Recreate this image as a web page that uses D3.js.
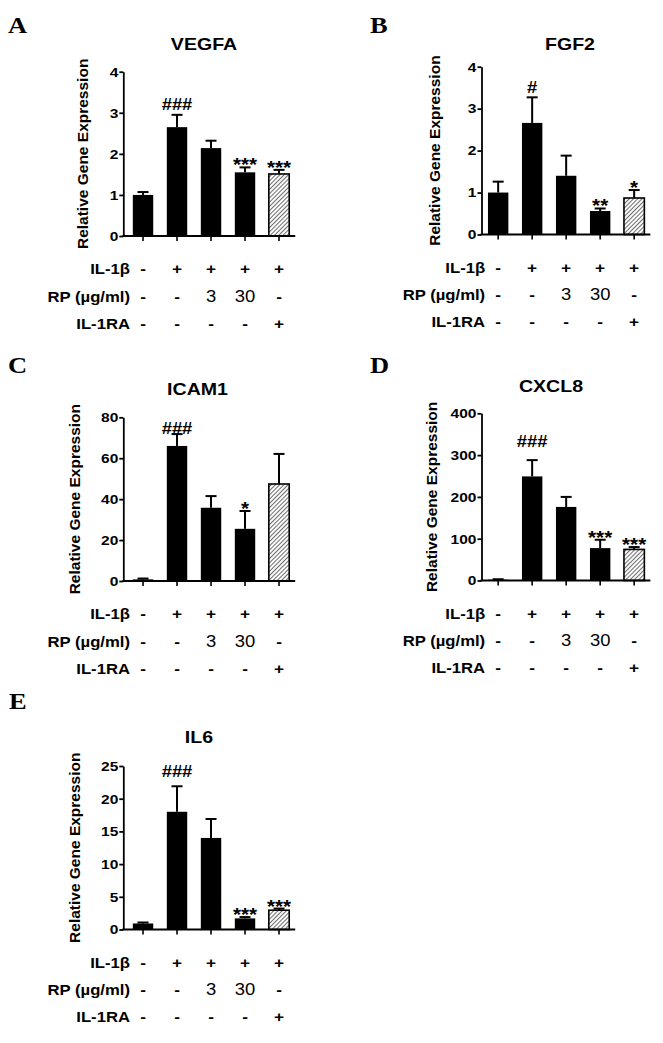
<!DOCTYPE html>
<html>
<head>
<meta charset="utf-8">
<script src="https://cdn.jsdelivr.net/npm/d3@7"></script>
<style>
  body { margin: 0; background: #fff; }
  svg { display: block; }
</style>
</head>
<body>
<div id="fig"></div>
<script>
// groups on the x axis (same for every panel)
const groups = ["ctrl", "il1b", "rp3", "rp30", "il1ra"];

// treatment rows under each panel
const rowLabels = ["IL-1β", "RP (µg/ml)", "IL-1RA"];
const il1bRow = ["-", "+", "+", "+", "+"];
const rpRow = ["-", "-", "3", "30", "-"];
const il1raRow = ["-", "-", "-", "-", "+"];

// values: mean and upper error (SEM)
const vegfaMean = [1.0, 2.65, 2.14, 1.55, 1.51];
const vegfaSem = [0.07, 0.30, 0.18, 0.12, 0.10];
const vegfaSig = ["", "###", "", "***", "***"];
const vegfaTicks = [0, 1, 2, 3, 4];

const fgf2Mean = [1.0, 2.66, 1.40, 0.56, 0.87];
const fgf2Sem = [0.26, 0.61, 0.48, 0.06, 0.19];
const fgf2Sig = ["", "#", "", "**", "*"];
const fgf2Ticks = [0, 1, 2, 3, 4];

const icam1Mean = [0.8, 66, 35.8, 25.5, 47.4];
const icam1Sem = [0.4, 5.8, 5.7, 8.7, 14.7];
const icam1Sig = ["", "###", "", "*", ""];
const icam1Ticks = [0, 20, 40, 60, 80];

const cxcl8Mean = [2, 249, 176, 77.5, 74.4];
const cxcl8Sem = [1, 39, 24, 20, 5.6];
const cxcl8Sig = ["", "###", "", "***", "***"];
const cxcl8Ticks = [0, 100, 200, 300, 400];

const il6Mean = [0.92, 18.0, 14.0, 1.7, 2.95];
const il6Sem = [0.15, 3.9, 2.9, 0.2, 0.25];
const il6Sig = ["", "###", "", "***", "***"];
const il6Ticks = [0, 5, 10, 15, 20, 25];

const W = 663, H = 1043;
const SX = 1.15; // the figure's lettering is a bit wider than Arial
const SANS = "'Liberation Sans', Arial, sans-serif";
const SERIF = "'Liberation Serif', 'Times New Roman', serif";

// layout of each panel on the page
const panels = [
  { letter: "A", title: "VEGFA", mean: vegfaMean, sem: vegfaSem, sig: vegfaSig, ticks: vegfaTicks,
    lx: 8, ly: 33, tx: 204, ty: 50, x0: 123.3, y0: 236, y1: 71.7, padOuter: 0.28, labelX: 88, hashDy: -5 },
  { letter: "B", title: "FGF2", mean: fgf2Mean, sem: fgf2Sem, sig: fgf2Sig, ticks: fgf2Ticks,
    lx: 370, ly: 33, tx: 570, ty: 50, x0: 481.5, y0: 234.5, y1: 66.7, padOuter: 0.19, labelX: 440, hashDy: -4 },
  { letter: "C", title: "ICAM1", mean: icam1Mean, sem: icam1Sem, sig: icam1Sig, ticks: icam1Ticks,
    lx: 8, ly: 373, tx: 197.5, ty: 395, x0: 123.3, y0: 581, y1: 417.3, padOuter: 0.28, labelX: 80, hashDy: 0 },
  { letter: "D", title: "CXCL8", mean: cxcl8Mean, sem: cxcl8Sem, sig: cxcl8Sig, ticks: cxcl8Ticks,
    lx: 370, ly: 373, tx: 551, ty: 392, x0: 481.5, y0: 580.5, y1: 413.3, padOuter: 0.19, labelX: 437, hashDy: -13 },
  { letter: "E", title: "IL6", mean: il6Mean, sem: il6Sem, sig: il6Sig, ticks: il6Ticks,
    lx: 9, ly: 709, tx: 199, ty: 743, x0: 123.3, y0: 929.5, y1: 766, padOuter: 0.28, labelX: 80, hashDy: -9 }
];

const rows = [il1bRow, rpRow, il1raRow];
const rowBaseline = [38, 65.5, 92.5];

const svg = d3.select("#fig").append("svg")
  .attr("width", W)
  .attr("height", H);

svg.append("rect").attr("width", W).attr("height", H).attr("fill", "#fff");

// diagonal hatch for the IL-1RA bar
const pat = svg.append("defs").append("pattern")
  .attr("id", "hatch")
  .attr("patternUnits", "userSpaceOnUse")
  .attr("width", 3).attr("height", 3)
  .attr("patternTransform", "rotate(45)");
pat.append("rect").attr("width", 3).attr("height", 3).attr("fill", "#fff");
pat.append("line").attr("x1", 0.5).attr("y1", 0).attr("x2", 0.5).attr("y2", 3)
  .attr("stroke", "#6e6e6e").attr("stroke-width", 1.1);

// stretch text horizontally
function widen(sel, k) {
  sel.each(function () {
    const n = this.getComputedTextLength();
    d3.select(this).attr("textLength", n * k).attr("lengthAdjust", "spacingAndGlyphs");
  });
}

function drawPanel(p) {
  const g = svg.append("g");
  const yMax = p.ticks[p.ticks.length - 1];
  const y = d3.scaleLinear().domain([0, yMax]).range([p.y0, p.y1]);
  const step = 34;
  const x = d3.scaleBand()
    .domain(groups)
    .range([p.x0, p.x0 + step * (groups.length - 0.4 + 2 * p.padOuter)])
    .paddingInner(0.4)
    .paddingOuter(p.padOuter);
  const bw = x.bandwidth();
  const cx = d => x(d) + bw / 2;

  // panel letter
  g.append("text")
    .attr("x", p.lx).attr("y", p.ly)
    .style("font-family", SERIF).style("font-weight", "bold").style("font-size", "23px")
    .text(p.letter)
    .call(widen, SX);

  // title
  g.append("text")
    .attr("x", p.tx).attr("y", p.ty)
    .attr("text-anchor", "middle")
    .style("font-family", SANS).style("font-weight", "bold").style("font-size", "17px")
    .text(p.title)
    .call(widen, SX);

  // y label
  g.append("text")
    .attr("transform", `translate(${p.labelX},${(p.y0 + p.y1) / 2}) rotate(-90)`)
    .attr("text-anchor", "middle")
    .style("font-family", SANS).style("font-weight", "bold").style("font-size", "15.5px")
    .text("Relative Gene Expression");

  // bars
  g.selectAll(".bar")
    .data(groups)
    .enter()
    .append("rect")
    .attr("class", "bar")
    .attr("x", d => x(d))
    .attr("y", (d, i) => y(p.mean[i]))
    .attr("width", bw)
    .attr("height", (d, i) => p.y0 - y(p.mean[i]))
    .attr("fill", (d, i) => i === groups.length - 1 ? "url(#hatch)" : "#000")
    .attr("stroke", (d, i) => i === groups.length - 1 ? "#000" : "none")
    .attr("stroke-width", 1.6);

  // error bars (upper only)
  const err = g.selectAll(".err")
    .data(groups)
    .enter()
    .append("g")
    .attr("class", "err");
  err.append("line")
    .attr("x1", d => cx(d)).attr("x2", d => cx(d))
    .attr("y1", (d, i) => y(p.mean[i]))
    .attr("y2", (d, i) => y(p.mean[i] + p.sem[i]))
    .attr("stroke", "#000").attr("stroke-width", 2);
  err.append("line")
    .attr("x1", d => cx(d) - 5.5).attr("x2", d => cx(d) + 5.5)
    .attr("y1", (d, i) => y(p.mean[i] + p.sem[i]))
    .attr("y2", (d, i) => y(p.mean[i] + p.sem[i]))
    .attr("stroke", "#000").attr("stroke-width", 2);

  // significance marks
  g.selectAll(".sig")
    .data(groups)
    .enter()
    .append("text")
    .attr("class", "sig")
    .attr("x", d => cx(d))
    .attr("y", (d, i) => y(p.mean[i] + p.sem[i]) + (p.sig[i].includes("#") ? p.hashDy : 4))
    .attr("text-anchor", "middle")
    .style("font-family", SANS).style("font-weight", "bold")
    .style("font-size", (d, i) => p.sig[i].includes("#") ? "16px" : "18px")
    .text((d, i) => p.sig[i])
    .filter((d, i) => p.sig[i] !== "")
    .call(widen, SX);

  // y axis
  const ya = g.append("g")
    .attr("transform", `translate(${p.x0},0)`)
    .call(d3.axisLeft(y).tickValues(p.ticks).tickFormat(d3.format("d"))
      .tickSize(4).tickPadding(1).tickSizeOuter(0));
  ya.select(".domain").attr("stroke", "#000").attr("stroke-width", 1.8);
  ya.selectAll(".tick line").attr("stroke", "#000").attr("stroke-width", 1.8);
  ya.selectAll(".tick text")
    .attr("fill", "#000")
    .style("font-family", SANS).style("font-weight", "bold").style("font-size", "13.5px")
    .call(widen, SX);

  // x axis line with small ticks at each bar
  const last = groups[groups.length - 1];
  g.append("line")
    .attr("x1", p.x0 - 0.9).attr("x2", x(last) + bw + 6)
    .attr("y1", p.y0).attr("y2", p.y0)
    .attr("stroke", "#000").attr("stroke-width", 1.8);
  g.selectAll(".xt")
    .data(groups)
    .enter()
    .append("line")
    .attr("class", "xt")
    .attr("x1", d => cx(d)).attr("x2", d => cx(d))
    .attr("y1", p.y0).attr("y2", p.y0 + 5)
    .attr("stroke", "#000").attr("stroke-width", 1.6);

  // treatment table under the axis
  rows.forEach((row, r) => {
    const by = p.y0 + rowBaseline[r];
    g.append("text")
      .attr("x", cx(groups[0]) - 13)
      .attr("y", by)
      .attr("text-anchor", "end")
      .style("font-family", SANS).style("font-weight", "bold").style("font-size", "14.5px")
      .text(rowLabels[r])
      .call(widen, SX);
    g.selectAll(null)
      .data(row)
      .enter()
      .append("text")
      .attr("x", (d, i) => cx(groups[i]))
      .attr("y", by)
      .attr("text-anchor", "middle")
      .style("font-family", SANS)
      .style("font-weight", d => (d === "+" || d === "-") ? "bold" : "normal")
      .style("font-size", d => (d === "+" || d === "-") ? "15px" : "16px")
      .text(d => d)
      .call(widen, SX);
  });
}

panels.forEach(drawPanel);
</script>
</body>
</html>
